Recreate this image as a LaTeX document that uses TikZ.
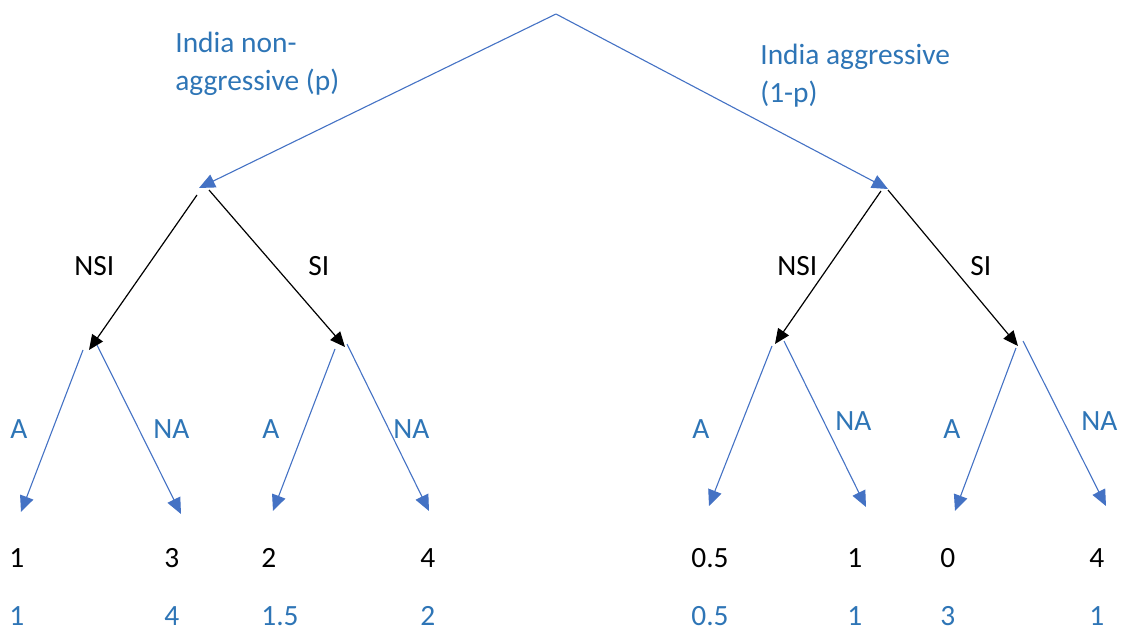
\documentclass[tikz,border=0pt]{standalone}
\usepackage{fontspec}
\setmainfont{Carlito}
\usetikzlibrary{arrows.meta}
\definecolor{lineblue}{HTML}{4472C4}
\definecolor{textblue}{HTML}{2E75B6}
\begin{document}
\begin{tikzpicture}[x=0.5pt,y=-0.5pt,
  txt/.style={inner sep=0pt,font=\fontsize{14.7}{19}\selectfont,anchor=base west},
  bluetxt/.style={txt,text=textblue},
  blacktxt/.style={txt,text=black},
  bluearrow/.style={draw=lineblue,line width=0.55pt,-{Triangle[length=8pt,width=7pt]}},
  blackarrow/.style={draw=black,line width=0.6pt,-{Triangle[length=7.5pt,width=6.5pt]}}
 ]
\useasboundingbox (0,0) rectangle (1121,631);
% tree points
\coordinate (root) at (556,14);
\coordinate (L) at (199,188);
\coordinate (R) at (888,189);
\coordinate (Lns) at (197,195);
\coordinate (Lsi) at (209,190);
\coordinate (Rns) at (881,191);
\coordinate (Rsi) at (888,190);
\coordinate (LL) at (89,350);
\coordinate (LR) at (345,347);
\coordinate (RL) at (775,344);
\coordinate (RR) at (1018,346);
% starts of blue leaf branches
\coordinate (LLa) at (83,350);
\coordinate (LLn) at (97,345);
\coordinate (LRa) at (335,349);
\coordinate (LRn) at (347,344);
\coordinate (RLa) at (772,346);
\coordinate (RLn) at (784,341);
\coordinate (RRa) at (1016,348);
\coordinate (RRn) at (1023,341);
% leaves
\coordinate (LLA) at (21,512);
\coordinate (LLN) at (181,514);
\coordinate (LRA) at (273,511);
\coordinate (LRN) at (429,511);
\coordinate (RLA) at (709,506);
\coordinate (RLN) at (866,507);
\coordinate (RRA) at (955,511);
\coordinate (RRN) at (1106,506);

% connectors
\draw[bluearrow] (root) -- (L);
\draw[bluearrow] (root) -- (R);
\draw[blackarrow] (Lns) -- (LL);
\draw[blackarrow] (Lsi) -- (LR);
\draw[blackarrow] (Rns) -- (RL);
\draw[blackarrow] (Rsi) -- (RR);
\draw[bluearrow] (LLa) -- (LLA);
\draw[bluearrow] (LLn) -- (LLN);
\draw[bluearrow] (LRa) -- (LRA);
\draw[bluearrow] (LRn) -- (LRN);
\draw[bluearrow] (RLa) -- (RLA);
\draw[bluearrow] (RLn) -- (RLN);
\draw[bluearrow] (RRa) -- (RRA);
\draw[bluearrow] (RRn) -- (RRN);

% labels
\node[bluetxt,align=left] (tL) at (175,91) {India non-\\aggressive (p)};
\node[bluetxt,align=left] (tR) at (760,103) {India aggressive\\(1-p)};
\node[blacktxt] (nsiL) at (74,276) {NSI};
\node[blacktxt] (siL) at (308,276) {SI};
\node[blacktxt] (nsiR) at (777,276) {NSI};
\node[blacktxt] (siR) at (970,276) {SI};

\node[bluetxt] (aLL) at (10,438) {A};
\node[bluetxt] (naLL) at (153,438) {NA};
\node[bluetxt] (aLR) at (262,438) {A};
\node[bluetxt] (naLR) at (393,438) {NA};
\node[bluetxt] (aRL) at (692,438) {A};
\node[bluetxt] (naRL) at (835,430) {NA};
\node[bluetxt] (aRR) at (943,438) {A};
\node[bluetxt] (naRR) at (1081,430) {NA};

% payoffs
\node[blacktxt] (p1) at (9,567) {1};
\node[blacktxt] (p2) at (164,567) {3};
\node[blacktxt] (p3) at (261,567) {2};
\node[blacktxt] (p4) at (420,567) {4};
\node[blacktxt] (p5) at (691,567) {0.5};
\node[blacktxt] (p6) at (847,567) {1};
\node[blacktxt] (p7) at (940,567) {0};
\node[blacktxt] (p8) at (1089,567) {4};
\node[bluetxt] (q1) at (9,625) {1};
\node[bluetxt] (q2) at (164,625) {4};
\node[bluetxt] (q3) at (261,625) {1.5};
\node[bluetxt] (q4) at (420,625) {2};
\node[bluetxt] (q5) at (691,625) {0.5};
\node[bluetxt] (q6) at (847,625) {1};
\node[bluetxt] (q7) at (940,625) {3};
\node[bluetxt] (q8) at (1089,625) {1};
\end{tikzpicture}
\end{document}
